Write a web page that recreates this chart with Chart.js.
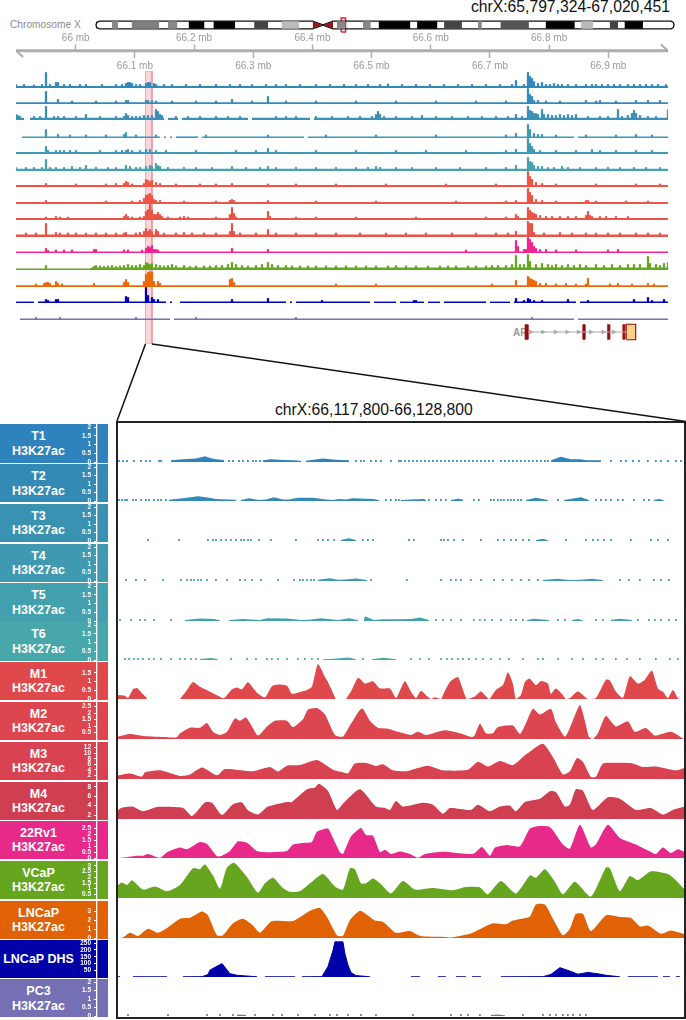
<!DOCTYPE html>
<html><head><meta charset="utf-8">
<script src="https://cdn.jsdelivr.net/npm/chart.js@4"></script>
<style>
html,body{margin:0;padding:0;background:#fff;width:686px;height:1020px;overflow:hidden;font-family:"Liberation Sans",sans-serif}
#page{position:relative;width:686px;height:1020px;overflow:hidden}
canvas{position:absolute;display:block}
.t{position:absolute;white-space:nowrap}
.row{position:absolute;left:0;width:108px}
.row div{position:absolute;left:0;width:77px;text-align:center;color:#fff;font-weight:bold;font-size:12.5px;line-height:14.4px;top:50%;transform:translateY(-50%)}
</style></head><body><div id="page"></div>
<script>
/* ---------- titles ---------- */
const overviewTitle = "chrX:65,797,324-67,020,451";
const zoomTitle = "chrX:66,117,800-66,128,800";
const chromosomeLabel = "Chromosome X";
const geneLabel = "AR";

/* ---------- ideogram, chromosome X, Mb ---------- */
const bandStart = [4.3,9.6,19.4,25.0,31.7,42.7,50.1,65.0,72.1,76.3,86.7,94.0,103.1,109.2,121.4,131.0,138.7,142.7];
const bandEnd   = [6.0,17.1,22.0,29.3,37.6,46.5,54.9,67.4,74.2,84.9,92.2,98.8,104.2,116.9,129.3,134.2,141.0,147.7];
const bandShade = ["#888","#808080","#888","#000","#000","#444","#bbb","#888","#888","#000","#000","#444","#888","#555","#000","#bbb","#444","#000"];
const centromere = [58.5,61.3,64.0];
const chromosomeEnd = 156.1;
const regionBox = [66.2,67.4];

/* ---------- overview axis, Mb ---------- */
const upperTicks = [66,66.2,66.4,66.6,66.8];
const lowerTicks = [66.1,66.3,66.5,66.7,66.9];
const overviewRange = [65.899,67.0009];
const overviewBinSize = 0.00338;
const highlightRange = [66.1178,66.1288];

/* ---------- gene model, Mb ---------- */
const exonStart = [66.7631,66.8618,66.9041,66.9304];
const exonEnd   = [66.7682,66.8657,66.9080,66.9338];
const utr = [66.9367,66.9519];
const intronArrows = [66.7728,66.7935,66.815,66.8348,66.8544,66.8753,66.8966,66.9147];

/* ---------- overview tracks: [bin, signal] ---------- */
const ovT1=[[0,3],[4,3],[9,2.5],[13,3],[15,15],[17,3],[20,5],[21,5],[24,3],[27,3],[32,3],[35,3],[43,3],[50,3],[53,3],[55,4],[56,5],[57,5],[58,4],[60,3],[62,3],[65,4],[66,5],[67,5],[69,4],[70,3],[74,3],[78,3],[85,3],[92,3],[100,3],[107,3],[112,3],[118,3],[125,3],[130,3],[135,3],[142,3],[150,3],[157,3],[164,3],[170,3],[176,3],[182,3],[186,3.5],[193,3],[200,3],[207,3],[214,3],[221,3],[228,3],[235,3],[242,3],[248,3],[250,7],[254,3],[256,15],[257,11],[258,9],[259,6],[261,4],[263,5],[265,3],[267,3],[269,4],[271,3],[273,3],[276,3],[280,3],[285,3],[288,3],[290,3],[293,3],[296,3],[299,3],[302,3],[306,3],[309,3],[312,3],[315,3],[318,3],[321,3],[325,3]];
const ovT2=[[15,12],[21,4],[28,2.5],[40,2.5],[50,2.5],[55,3],[56,3],[65,3],[66,3],[68,3],[70,2.5],[78,2.5],[90,2.5],[100,2.5],[108,4],[118,2.5],[126,7],[135,2.5],[150,2.5],[170,2.5],[190,2.5],[210,2.5],[230,2.5],[245,2.5],[256,15],[257,9],[258,7],[259,3],[261,3],[265,2.5],[272,2.5],[285,3],[290,2.5],[292,3],[300,2.5],[310,3],[316,3],[322,3]];
const ovT3=[[0,5],[1,4],[2,3],[9,3],[12,3],[15,13],[19,3],[21,3],[24,3],[30,3],[35,5],[42,3],[50,3],[54,3],[55,6],[56,4],[58,3],[60,3],[62,3],[64,4],[66,4],[68,4],[70,10],[71,8],[72,5],[73,4],[80,3],[86,3],[92,3],[100,3],[106,3],[112,3],[130,3],[135,3],[140,3],[150,3],[158,3],[166,3],[172,3],[178,3],[180,5],[181,8],[182,5],[184,3],[190,3],[198,3],[203,4],[210,3],[218,3],[226,3],[233,3],[240,3],[246,3],[250,5],[253,3],[256,13],[257,9],[258,8],[259,6],[260,6],[261,5],[263,10],[264,5],[266,5],[268,4],[270,4],[272,5],[274,4],[276,5],[278,4],[280,5],[286,3],[292,3],[296,3],[301,10],[303,3],[306,4],[308,6],[309,9],[310,6],[312,4],[316,3],[320,3],[326,10]];
const ovT4=[[15,8],[21,3],[27,2.5],[35,2.5],[45,2.5],[54,3],[55,5],[60,2.5],[70,2.5],[95,2.5],[126,2.5],[155,2.5],[180,2.5],[210,2.5],[245,2.5],[250,4],[256,13],[257,8],[259,4],[261,3],[263,3],[270,2.5],[285,2.5],[300,2.5],[310,3],[318,2.5]];
const ovT5=[[15,7],[16,3],[20,3],[22,3],[24,3],[27,3],[30,3],[42,3],[50,3],[53,3],[55,3],[56,4],[58,3],[62,3],[65,4],[67,4],[70,3],[75,3],[90,3],[110,3],[120,3],[126,5],[130,3],[150,3],[170,3],[190,3],[205,3],[225,3],[245,3],[250,4],[256,15],[257,10],[258,7],[259,4],[262,3],[270,3],[280,3],[288,4],[292,3],[300,3],[310,3],[318,3]];
const ovT6=[[0,3],[5,3],[9,3],[13,3],[15,11],[17,3],[20,3],[24,3],[28,4],[32,3],[35,5],[40,3],[46,3],[50,3],[55,5],[57,4],[60,3],[62,3],[65,4],[67,5],[68,4],[70,7],[71,5],[72,4],[76,3],[84,3],[90,3],[98,3],[108,4],[115,3],[122,3],[126,4],[130,3],[140,3],[150,3],[160,3],[170,3],[176,3],[180,4],[182,3],[190,3],[198,3],[210,3],[222,3],[235,3],[245,3],[250,5],[256,13],[257,9],[258,8],[259,5],[261,4],[263,4],[266,3],[269,3],[273,4],[276,3],[282,3],[290,3],[296,3],[302,3],[309,3],[315,3],[322,3]];
const ovM1=[[15,3],[30,2.5],[45,2.5],[50,3],[54,3],[55,5],[56,4],[58,2.5],[64,3],[65,7],[66,6],[67,5],[68,6],[70,4],[72,3],[80,2.5],[92,2.5],[100,2.5],[108,3],[126,2.5],[140,2.5],[160,2.5],[185,2.5],[215,2.5],[240,2.5],[256,15],[257,10],[258,7],[260,4],[263,3],[270,2.5],[290,2.5],[310,2.5],[322,2.5]];
const ovM2=[[15,3],[45,2.5],[58,2.5],[62,3],[64,5],[65,8],[66,9],[67,10],[68,8],[69,4],[70,3],[72,3],[84,2.5],[100,2.5],[107,3],[108,4],[109,3],[126,3],[150,2.5],[180,2.5],[220,2.5],[245,2.5],[250,3],[256,15],[257,11],[258,8],[260,4],[263,3],[270,2.5],[285,3],[286,3],[290,2.5],[305,2.5],[316,2.5]];
const ovM3=[[15,2.5],[20,3],[22,2.5],[26,2.5],[54,3],[55,5],[56,3],[58,2.5],[62,2.5],[64,3],[65,8],[66,10],[67,15],[68,9],[69,5],[70,5],[71,7],[72,5],[73,3],[76,2.5],[82,2.5],[84,3],[86,2.5],[100,2.5],[107,5],[108,12],[109,6],[110,2.5],[126,8],[127,3],[140,2.5],[150,2.5],[170,2.5],[200,2.5],[235,2.5],[245,2.5],[250,5],[251,3],[256,12],[257,9],[258,7],[259,6],[260,5],[262,4],[265,3],[268,3],[272,3],[276,3],[280,3],[285,4],[286,8],[287,4],[288,3],[292,3],[295,3],[300,3],[306,3]];
const ovM4=[[5,3.5],[10,3.5],[15,13],[20,4],[22,3.5],[26,3.5],[30,3.5],[35,3.5],[40,3.5],[45,3.5],[50,3.5],[54,3.5],[55,4],[60,3.5],[62,4],[64,5],[65,8],[66,5],[67,7],[68,5],[70,7],[71,5],[74,3.5],[80,3.5],[84,4],[88,3.5],[94,3.5],[100,3.5],[107,5],[108,13],[109,5],[112,3.5],[120,3.5],[126,7],[130,3.5],[140,3.5],[150,3.5],[160,3.5],[172,3.5],[185,3.5],[195,3.5],[205,3.5],[218,3.5],[230,3.5],[240,3.5],[246,3.5],[250,5],[256,15],[257,13],[258,13],[259,4],[264,3.5],[272,4],[278,3.5],[285,3.5],[290,3.5],[296,3.5],[302,3.5],[310,3.5],[316,3.5],[322,3.5]];
const ovR22=[[15,4],[16,2],[20,2.5],[24,2.5],[28,2.5],[39,3],[40,3],[54,2.5],[56,2.5],[63,2.5],[65,4],[66,6],[67,5],[68,7],[69,3],[70,3],[71,2.5],[108,4],[126,3],[225,2.5],[250,12],[251,6],[254,3],[255,3],[256,15],[257,13],[258,10],[259,6],[260,4],[262,3],[265,3],[270,2.5],[280,2.5],[296,2.5],[301,3]];
const ovVC=[[15,4],[39,3],[40,4],[42,3.5],[44,3],[46,3.5],[48,4],[50,3],[52,3.5],[54,4],[56,5],[58,4],[60,4],[62,5],[64,4],[65,7],[66,6],[67,5],[68,6],[70,5],[72,4],[74,3.5],[76,4],[78,5],[80,3.5],[84,4],[87,3],[90,3.5],[94,3.5],[97,3.5],[100,4],[103,4],[106,5],[108,7],[110,5],[113,4],[116,3.5],[120,4],[123,5],[126,7],[128,5],[131,4],[135,4],[138,3.5],[142,3.5],[146,3.5],[150,3.5],[155,3.5],[160,3.5],[165,3.5],[170,3.5],[175,3.5],[180,3.5],[186,3.5],[190,4],[195,3.5],[200,3.5],[206,3.5],[212,3.5],[216,3.5],[220,3.5],[226,3.5],[230,3.5],[235,3.5],[238,4],[241,4],[245,4],[248,5],[250,14],[252,5],[254,5],[256,15],[257,8],[260,5],[263,6],[266,5],[268,4],[270,5],[273,4],[276,5],[279,4],[282,5],[285,4],[290,5],[294,4],[298,5],[302,4],[306,5],[309,5],[312,5],[316,13],[317,6],[320,5],[322,4],[324,6],[326,7]];
const ovLN=[[10,2.5],[14,3],[15,4],[16,4],[17,3],[20,5],[21,3],[23,2.5],[39,3],[54,4],[55,7],[56,4],[64,5],[65,12],[66,14],[67,15],[68,14],[69,5],[71,5],[72,3],[107,7],[108,8],[109,4],[160,2.5],[180,2.5],[238,2.5],[250,6],[256,10],[257,8],[258,7],[259,6],[260,5],[262,3],[265,3],[270,2.5],[275,3],[280,2.5],[285,2.5],[286,8],[297,2.5],[301,3],[308,2.5],[316,3],[319,2.5]];
const ovDH=[[15,3],[16,2],[20,3],[21,3],[55,6],[56,5],[65,15],[66,7],[68,5],[69,3],[71,3],[108,3],[126,4],[153,2],[199,2],[200,2],[250,4],[254,2],[256,4],[257,3],[259,2],[263,2],[276,3],[286,2],[309,3],[316,5],[318,2],[324,3]];
const ovPC=[[10,2],[22,2],[60,2],[90,2],[140,2],[258,2]];
const ovGapsT3=[5,6,75,82,117,148];
const ovGapsT4=[1,2,73,76,79,92,145,280];
const ovGapsDH=[10,76,79,81,136,139,178,191,205,213,236,248,281];
const ovGapsPC=[1,78,280];

/* ---------- zoom window ---------- */
const windowStart = 66117800;
const windowEnd   = 66128800;
const bpPerBin = 19.43;

/* ---------- zoom axes ---------- */
const ticksChip = [0,0.5,1,1.5,2];
const ticksM1 = [0,0.5,1,1.5];
const ticksM2 = [0.5,1,1.5,2,2.5];
const ticksM3 = [2,4,6,8,10,12];
const ticksM4 = [2,4,6,8];
const ticksR22 = [0,0.5,1,1.5,2,2.5];
const ticksVC = [0.5,1,1.5,2,2.5,3];
const ticksLN = [0,1,2,3];
const ticksDH = [50,100,150,200,250];

/* ---------- zoom profiles: [bin, signal] ---------- */
const profM1=[[0,.24],[7,.19],[10,.06],[15,.56],[19,.63],[24,.33],[28,.11],[29,0],[30,null],[61,null],[62,0],[69,.52],[75,.98],[82,.7],[90,.48],[100,.19],[106,.05],[114,.56],[119,.67],[124,.56],[130,.96],[139,.37],[147,.11],[154,.74],[160,.83],[169,.76],[174,.3],[184,.43],[189,.52],[194,.7],[200,2.0],[207,1.26],[210,.98],[217,.11],[218,0],[219,null],[227,null],[228,0],[233,.43],[240,1.22],[243,1.11],[247,.89],[255,1.02],[262,.61],[272,.61],[278,.06],[280,.24],[287,1.02],[293,.43],[298,.06],[303,.48],[308,.24],[313,0],[317,.11],[323,0],[325,.24],[332,.98],[340,1.26],[344,.7],[349,0],[357,.15],[363,.43],[371,0],[373,.11],[378,.52],[385,.8],[390,1.54],[395,.89],[398,0],[403,.24],[407,.98],[412,1.17],[418,.8],[423,1.04],[430,.89],[433,.3],[438,.61],[445,.24],[448,0],[452,.06],[460,.43],[470,0],[478,.06],[488,1.11],[492,1.07],[498,.43],[505,.06],[512,1.3],[520,.89],[527,1.11],[534,1.63],[540,.61],[545,.43],[550,.06],[555,.52],[560,.06],[562,0]];
const profM2=[[0,.19],[12,.39],[25,.24],[49,.15],[59,.15],[62,.44],[72,.87],[82,.87],[89,1.24],[95,.56],[102,.32],[109,.56],[117,1.6],[122,1.41],[128,1.65],[134,.97],[140,.27],[149,.97],[157,1.41],[169,1.41],[175,.92],[185,1.53],[190,2.26],[199,2.38],[207,1.89],[217,.32],[225,.19],[233,1.17],[242,2.26],[245,2.33],[252,1.41],[260,.87],[270,.8],[280,.56],[293,.32],[300,.56],[308,.32],[327,.68],[342,.44],[354,.15],[357,.32],[362,1.17],[368,.44],[375,.44],[380,.92],[395,1.04],[402,.39],[407,1.04],[415,2.33],[422,1.89],[433,2.33],[438,1.29],[447,.19],[453,1.04],[462,2.62],[467,1.41],[471,.19],[475,0],[480,.44],[488,1.77],[498,.97],[510,1.36],[517,.56],[528,.85],[537,.27],[553,.56],[566,0]];
const profM3=[[0,2],[12,2.7],[24,1.55],[27,3.1],[42,3.8],[62,1.8],[72,2.3],[84,4.8],[99,2.0],[107,4.3],[135,3.5],[152,5],[160,3.4],[169,5.5],[182,5.7],[199,7.5],[215,4],[225,3.1],[230,2.7],[237,6.3],[247,6.5],[258,5.4],[265,6],[275,3.8],[288,3.5],[310,5.5],[325,3.8],[350,4],[360,6.9],[370,5.2],[382,7.2],[395,5.7],[408,9.5],[425,13.4],[435,8.6],[445,2.3],[452,3.5],[459,8.2],[465,6.9],[473,1.4],[478,1.5],[485,6.3],[498,6.5],[515,6.3],[525,5],[538,5.2],[558,3.8],[567,4.8]];
const profM4=[[0,3],[3,3.5],[14,3.8],[25,2.8],[39,3.7],[65,3.5],[74,1.8],[87,4.7],[94,4.6],[104,2],[115,4.3],[124,4.7],[130,3],[140,2.1],[150,3.8],[169,4.8],[174,4.8],[189,7.5],[197,7.9],[201,8.7],[210,7.2],[219,3.1],[225,4.4],[242,7.5],[258,3.8],[267,3.5],[272,3.1],[278,5],[285,3.8],[305,4.6],[315,4.2],[325,2.3],[332,3.5],[353,3.1],[360,4.2],[372,2.8],[382,3.8],[392,4],[398,2.8],[407,4.8],[422,5.5],[432,7.1],[438,6.9],[447,3.8],[452,4.2],[458,7.5],[465,7.2],[475,3.1],[490,5.8],[502,5.5],[518,3.1],[533,3.5],[545,2.1],[555,3.1],[567,3.8]];
const profR22=[[0,0],[10,.1],[19,.2],[25,.2],[30,.35],[42,.03],[49,.5],[62,.9],[69,.75],[82,1.37],[89,1.2],[99,.16],[104,.2],[112,.6],[120,1.42],[129,1.3],[139,.6],[149,.5],[169,.6],[175,1.15],[187,1.3],[194,1.37],[199,2.23],[210,2.5],[215,1.7],[222,.5],[225,.35],[233,1.83],[243,2.55],[248,1.96],[255,1.9],[262,.5],[267,.7],[273,.35],[282,.56],[292,.35],[300,.03],[307,.35],[325,.54],[355,.35],[364,.94],[372,.2],[377,.9],[388,1.1],[402,1],[412,2.5],[420,2.7],[432,2.63],[445,1.15],[452,.8],[462,2.82],[473,.9],[478,1.15],[490,2.82],[502,1.7],[518,1.15],[532,.56],[538,.35],[545,.9],[553,.43],[560,.75],[567,.5]];
const profVC=[[0,1.33],[4,1.55],[9,1.33],[14,1.75],[25,.92],[37,1.2],[49,.78],[62,1.33],[75,2.8],[82,2.72],[87,3.14],[95,2.17],[102,1],[109,2.86],[116,3.28],[129,2.03],[140,.64],[147,1.47],[155,1.97],[165,1.06],[172,.72],[182,.78],[192,1.47],[205,2.3],[217,1.2],[225,.92],[232,2.8],[237,2.72],[243,1.47],[248,1.47],[255,1.89],[262,1.47],[273,.58],[285,1.67],[297,.92],[315,1.06],[335,.86],[348,1.14],[362,1.11],[370,.5],[383,1.67],[398,.58],[412,2.17],[418,1.97],[427,2.72],[437,1.61],[445,.5],[457,1.61],[473,.3],[488,2.86],[492,2.8],[502,.78],[512,2.11],[520,1.75],[533,2.53],[550,2.3],[558,1.75],[567,.92]];
const profLN=[[0,0],[5,.07],[12,.6],[20,.25],[30,1.07],[40,.6],[49,1.14],[62,2.2],[72,2.3],[84,3],[90,2.57],[99,.32],[105,.32],[115,1.68],[125,2.2],[135,1.43],[142,.6],[154,1.93],[175,1.93],[192,3.1],[202,3.4],[210,2.2],[219,.32],[225,.25],[232,2.04],[242,3.1],[250,2.57],[257,2],[265,1.86],[278,.6],[292,.8],[302,.25],[325,.14],[332,.07],[352,.5],[363,1.07],[375,1.68],[388,1.57],[395,2],[412,2.46],[418,3.8],[427,3.8],[435,2.2],[445,.32],[452,1.07],[458,2.75],[465,2.75],[473,.8],[488,2.57],[502,2.4],[513,2.3],[522,1.32],[530,1.43],[543,.5],[553,.86],[567,.43]];
const profDH=[[0,3],[2,3],[3,null],[14,null],[15,3],[49,3],[50,null],[64,null],[65,3],[84,4],[90,20],[92,52],[104,100],[112,26],[119,14],[139,3],[140,null],[146,null],[147,3],[177,3],[178,null],[183,null],[184,3],[204,4],[210,78],[215,195],[217,259],[225,259],[227,172],[230,90],[233,35],[238,12],[252,3],[253,null],[292,null],[293,3],[302,3],[303,null],[319,null],[320,3],[328,3],[329,null],[337,null],[338,3],[348,3],[349,null],[353,null],[354,3],[363,3],[364,null],[382,null],[383,3],[425,4],[433,20],[442,70],[452,45],[460,22],[470,35],[480,25],[488,14],[502,3],[503,null],[509,null],[510,3],[540,3],[541,null],[544,null],[545,3],[552,3],[553,null],[557,null],[558,3],[562,3]];
const humpT1=[[53,.1],[65,.17],[78,.2],[87,.33],[93,.22],[98,.17],[106,.12],[107,null],[144,null],[145,.1],[153,.17],[161,.14],[175,.1],[183,.08],[184,null],[187,null],[188,.08],[205,.2],[218,.14],[231,.1],[232,null],[432,null],[433,.1],[443,.3],[453,.17],[463,.17],[468,.1],[483,.1]];
const humpT2=[[51,.08],[65,.17],[80,.28],[88,.22],[98,.13],[118,.08],[119,null],[122,null],[123,.07],[131,.17],[141,.06],[148,.1],[156,.22],[165,.1],[171,.1],[180,.2],[195,.2],[208,.1],[215,.07],[221,.13],[228,.1],[235,.17],[255,.13],[261,.06],[262,null],[282,null],[283,.07],[293,.1],[306,.12],[308,.05],[309,null],[332,null],[333,.07],[340,.14],[345,.1],[346,null],[407,null],[408,.07],[418,.2],[430,.07],[431,null],[445,null],[446,.07],[463,.22],[471,.07],[472,null],[535,null],[536,.07],[541,.12],[546,.05]];
const humpT3=[[223,.06],[231,.17],[238,.06],[239,null],[417,null],[418,.07],[425,.14],[430,.05]];
const humpT4=[[200,.08],[212,.17],[220,.08],[227,.1],[238,.15],[249,.07],[250,null],[424,null],[425,.07],[440,.14],[451,.07],[463,.08],[474,.14],[485,.06]];
const humpT5=[[67,.06],[82,.15],[96,.12],[102,.05],[103,null],[110,null],[111,.06],[125,.12],[142,.06],[149,.17],[169,.15],[183,.06],[191,.08],[203,.17],[220,.06],[225,.1],[231,.17],[240,.06],[241,null],[246,.1],[247,.28],[256,.07],[265,.1],[278,.1],[293,.12],[302,.2],[311,.07],[312,null],[408,null],[409,.06],[416,.14],[431,.07],[432,null],[453,null],[454,.06],[460,.12],[465,.05],[466,null],[492,null],[493,.08],[502,.14],[514,.06]];
const humpT6=[[82,.06],[93,.12],[100,.05],[101,null],[204,null],[205,.05],[216,.08],[231,.15],[238,.05],[239,null],[253,null],[254,.05],[265,.14],[278,.05]];
const humpPC=[[119,.06],[121,.1],[125,.08],[128,.06],[129,null],[372,null],[373,.06],[380,.1],[387,.05]];

/* ---------- zoom sparse reads: bins holding a small signal ---------- */
const readsT1=[1,5,9,16,23,28,32,41,43,111,115,121,125,130,135,138,142,238,243,246,253,258,263,273,281,283,287,291,295,299,303,307,311,315,319,323,327,331,335,339,343,347,351,355,359,363,367,371,375,383,387,391,395,399,403,407,411,415,419,423,427,430,493,503,508,515,521,530,538,543,550,558,563];
const readsT2=[1,4,7,9,15,18,23,28,31,36,40,43,48,268,273,278,281,311,318,323,328,356,361,373,376,380,383,386,390,393,396,400,403,440,478,483,488,493,500,505,516,526,531];
const readsT3=[30,61,90,95,98,103,108,113,118,123,126,130,133,141,153,178,200,205,210,216,245,250,255,291,296,323,326,330,336,345,363,380,386,393,398,405,411,448,468,475,480,486,493,513,533,540,550];
const readsT4=[8,18,27,45,63,69,73,76,80,83,89,98,109,122,127,134,143,160,176,182,185,189,193,196,253,289,323,333,338,343,353,363,376,385,394,403,411,420,502,511,522,536,543,551];
const readsT5=[2,13,22,27,36,53,318,325,333,343,356,362,367,374,383,393,398,405,440,447,478,485,520,531,537,543,551,558];
const readsT6=[7,11,16,20,25,31,36,43,53,62,67,73,78,113,129,138,149,154,160,169,180,187,194,200,245,293,302,311,323,329,334,340,345,351,358,365,373,382,391,405,420,425,440,454,465,478,485,498,509,522,538,552,560];
const readsPC=[10,50,89,102,115,137,155,164,180,197,212,219,230,243,258,295,333,343,350,362,405,425,432,438,445,450,455,462,468];
const readSignal = 0.1;

/* ---------- labels and colours ---------- */
const rowNames=["T1","T2","T3","T4","T5","T6","M1","M2","M3","M4","22Rv1","VCaP","LNCaP","LNCaP DHS","PC3"];
const rowAssay=["H3K27ac","H3K27ac","H3K27ac","H3K27ac","H3K27ac","H3K27ac","H3K27ac","H3K27ac","H3K27ac","H3K27ac","H3K27ac","H3K27ac","H3K27ac","","H3K27ac"];
const rowColors=["#2e83bc","#338bb5","#3a92b2","#3f99b0","#43a0ae","#48a7ab","#e0494c","#dd464f","#d94351","#d03e52","#e7298a","#66a61e","#e06205","#0000a8","#7570b3"];
const ovColors=["#3388bb","#338bb8","#3a90b5","#3f98b5","#3f98b5","#48a0b0","#ee5545","#ec5548","#e85548","#e55548","#f0258f","#66a61e","#e8690b","#0000b0","#7570b3"];

/* ---------- layout (not data) ---------- */
const ovBase=[86.7,103.3,119.3,136.7,153,169.7,186,202.7,219.3,235.7,252.3,269,285.7,302.3,318.7];
const ovFloor=[2,1.8,2.2,1.6,2,2.2,2,2,2,2.6,1.6,2.6,1.8,1.4,1.4];
const rowTop=[424.3,464,504,543.7,583.3,622,661.7,701.7,741.7,781.7,821,860.7,901,940,979.3];
const rowBottom=[462.7,502.3,542,582,621.7,660.7,700,740,780,820,859,899,938.7,977.7,1017.3];

const FONT='"Liberation Sans"';
Chart.defaults.font.family=FONT;
Chart.defaults.animation=false;
Chart.defaults.responsive=false;
Chart.defaults.devicePixelRatio=1;
Chart.defaults.events=[];
Chart.defaults.plugins.legend.display=false;
Chart.defaults.plugins.tooltip.enabled=false;
Chart.defaults.elements.point.radius=0;

const page=document.getElementById('page');
function addCanvas(l,t,w,h){const c=document.createElement('canvas');c.width=w;c.height=h;c.style.cssText=`left:${l}px;top:${t}px;width:${w}px;height:${h}px`;page.appendChild(c);return c;}
function addText(s,css){const d=document.createElement('div');d.className='t';d.textContent=s;d.style.cssText=css;page.appendChild(d);return d;}
const hidden=(min,max,extra)=>Object.assign({type:'linear',display:false,min,max,offset:false},extra||{});
const lineSet=(data,color,extra)=>Object.assign({type:'line',data,borderColor:color,backgroundColor:color,borderWidth:0,pointRadius:0,tension:0,fill:false,spanGaps:false},extra||{});
const rectPts=(a,b,lo,hi)=>[{x:a,y:lo},{x:a,y:hi},{x:b,y:hi},{x:b,y:lo},{x:a,y:lo}];
const rectFill=(a,b,lo,hi,color)=>lineSet([{x:a,y:hi},{x:b,y:hi}],color,{showLine:true,fill:{value:lo}});

/* text */
addText(overviewTitle,'left:471px;top:-2px;font-size:15.7px;color:#111;line-height:18px');
addText(zoomTitle,'left:275px;top:401px;font-size:15.7px;color:#111;line-height:18px');
addText(chromosomeLabel,'left:10px;top:18px;font-size:10.2px;color:#8a8a8a;line-height:14px');
addText(geneLabel,'left:513px;top:326px;font-size:10px;font-weight:bold;color:#999;line-height:13px');

/* highlight band */
new Chart(addCanvas(16,71,652,273),{type:'scatter',data:{datasets:[
 rectFill(highlightRange[0],highlightRange[1],0,1,'rgba(245,150,160,.38)'),
 lineSet(rectPts(highlightRange[0],highlightRange[1],0,1),'rgba(240,130,140,.7)',{showLine:true,borderWidth:1,clip:false})]},
 options:{scales:{x:hidden(overviewRange[0],overviewRange[1]),y:hidden(0,1)}}});

/* ideogram */
(function(){
 const ds=[];
 bandStart.forEach((s,i)=>ds.push(rectFill(s,bandEnd[i],-1,1,bandShade[i])));
 const red='#8b1d1d';
 [-1,1].forEach(sg=>{
  ds.push(lineSet([{x:centromere[0],y:sg},{x:centromere[1],y:0}],red,{showLine:true,fill:'origin'}));
  ds.push(lineSet([{x:centromere[1],y:0},{x:centromere[2],y:sg}],red,{showLine:true,fill:'origin'}));
 });
 const e=chromosomeEnd,c=centromere;
 ds.push(lineSet([{x:1,y:1},{x:c[0],y:1},{x:c[1],y:.05},{x:c[2],y:1},{x:e-.8,y:1},{x:e-.2,y:.7},{x:e,y:0},{x:e-.2,y:-.7},{x:e-.8,y:-1},{x:c[2],y:-1},{x:c[1],y:-.05},{x:c[0],y:-1},{x:1,y:-1},{x:.2,y:-.7},{x:0,y:0},{x:.2,y:.7},{x:1,y:1}],'#111',{showLine:true,borderWidth:1.3}));
 ds.push(lineSet(rectPts(regionBox[0],regionBox[1],-1.84,1.84),'#e3202a',{showLine:true,borderWidth:1.4}));
 new Chart(addCanvas(90,16,590,18),{type:'scatter',data:{datasets:ds},options:{scales:{x:hidden(-1.62,157.7),y:hidden(-2.37,2.37)}}});
})();

/* overview axis */
new Chart(addCanvas(16,30,652,45),{type:'scatter',data:{datasets:[
 lineSet([{x:overviewRange[0],y:0},{x:overviewRange[1],y:0}],'#aeaeae',{showLine:true,borderWidth:3,clip:false,xAxisID:'xb'}),
 lineSet([{x:overviewRange[0],y:0},{x:overviewRange[0]+.012,y:-5}],'#aeaeae',{showLine:true,borderWidth:2,clip:false,xAxisID:'xb'}),
 lineSet([{x:overviewRange[1],y:0},{x:overviewRange[1]-.012,y:5}],'#aeaeae',{showLine:true,borderWidth:2,clip:false,xAxisID:'xb'})
]},options:{scales:{
 xa:{type:'linear',position:'top',min:overviewRange[0],max:overviewRange[1],border:{display:false},
  afterBuildTicks:s=>{s.ticks=upperTicks.map(v=>({value:v}));},afterFit:s=>{s.height=19.5;},
  grid:{drawOnChartArea:false,tickLength:5,tickWidth:1.5,tickColor:'#aeaeae'},
  ticks:{autoSkip:false,maxRotation:0,padding:0,color:'#9a9a9a',font:{size:10},callback:v=>v+' mb'}},
 xb:{type:'linear',position:'bottom',min:overviewRange[0],max:overviewRange[1],border:{display:false},
  afterBuildTicks:s=>{s.ticks=lowerTicks.map(v=>({value:v}));},afterFit:s=>{s.height=23;},
  grid:{drawOnChartArea:false,tickLength:6,tickWidth:1.5,tickColor:'#aeaeae'},
  ticks:{autoSkip:false,maxRotation:0,padding:2,color:'#9a9a9a',font:{size:10},callback:v=>v+' mb'}},
 y:hidden(-1,1)}}});

/* overview tracks */
const ovData=[ovT1,ovT2,ovT3,ovT4,ovT5,ovT6,ovM1,ovM2,ovM3,ovM4,ovR22,ovVC,ovLN,ovDH,ovPC];
const ovGaps={2:ovGapsT3,3:ovGapsT4,13:ovGapsDH,14:ovGapsPC};
const ovX=b=>overviewRange[0]+b*overviewBinSize;
ovData.forEach((peaks,i)=>{
 const gaps=ovGaps[i]||[];
 const floor=[];
 for(let b=0;b<=326;b++){
  const h=(i===11&&b<38)?1.4:ovFloor[i];
  floor.push({x:ovX(b),y:gaps.includes(b)?null:h});
 }
 new Chart(addCanvas(16,Math.round(ovBase[i]+1-18),652,18),{type:'bar',data:{datasets:[
  {type:'bar',data:peaks.map(p=>({x:ovX(p[0]),y:p[1]+.5})),backgroundColor:ovColors[i],barThickness:1.6},
  lineSet(floor,ovColors[i],{fill:'origin'})
 ]},options:{scales:{x:hidden(overviewRange[0],overviewRange[1]),y:hidden(0,18)}}});
});

/* gene model */
(function(){
 const ds=[lineSet([{x:exonEnd[0],y:0},{x:utr[0],y:0}],'#aaa',{showLine:true,borderWidth:1.2}),
  {type:'scatter',data:intronArrows.map(x=>({x,y:0})),pointStyle:'triangle',rotation:90,pointRadius:3,backgroundColor:'#aaa',borderWidth:0}];
 exonStart.forEach((s,i)=>{
  ds.push(rectFill(s,exonEnd[i],-1,1,'#7d1418'));
  ds.push(lineSet(rectPts(s,exonEnd[i],-1,1),'#c4161c',{showLine:true,borderWidth:.8}));
 });
 ds.push(rectFill(utr[0],utr[1],-1,1,'#fdd08a'));
 ds.push(lineSet(rectPts(utr[0],utr[1],-1,1),'#8b1216',{showLine:true,borderWidth:1.8}));
 new Chart(addCanvas(16,318,652,28),{type:'scatter',data:{datasets:ds},options:{scales:{x:hidden(overviewRange[0],overviewRange[1]),y:hidden(-1.36,1.36)}}});
})();

/* zoom rows */
const rowAxis=[
 {t:ticksChip,min:0,max:2.13},{t:ticksChip,min:0,max:2.13},{t:ticksChip,min:0,max:2.13},{t:ticksChip,min:0,max:2.13},{t:ticksChip,min:0,max:2.13},{t:ticksChip,min:0,max:2.13},
 {t:ticksM1,min:0,max:2.07},{t:ticksM2,min:0,max:2.78},{t:ticksM3,min:.65,max:13.7},{t:ticksM4,min:1.13,max:8.87},
 {t:ticksR22,min:0,max:3.07},{t:ticksVC,min:.17,max:3.36},{t:ticksLN,min:0,max:4.1},{t:ticksDH,min:.7,max:266},{t:ticksChip,min:0,max:2.13}];
const rowProfiles=[humpT1,humpT2,humpT3,humpT4,humpT5,humpT6,profM1,profM2,profM3,profM4,profR22,profVC,profLN,profDH,humpPC];
const rowReads=[readsT1,readsT2,readsT3,readsT4,readsT5,readsT6,null,null,null,null,null,null,null,null,readsPC];
const bpX=b=>windowStart+b*bpPerBin;

rowNames.forEach((name,i)=>{
 const top=rowTop[i],bot=rowBottom[i];
 const r=document.createElement('div');r.className='row';
 r.style.cssText=`top:${top}px;height:${bot-top}px;background:${rowColors[i]}`;
 const lab=document.createElement('div');
 const a=document.createElement('span');a.textContent=name;lab.appendChild(a);
 if(rowAssay[i]){lab.appendChild(document.createElement('br'));const b=document.createElement('span');b.textContent=rowAssay[i];lab.appendChild(b);}
 r.appendChild(lab);page.appendChild(r);
});
rowNames.forEach((name,i)=>{
 const top=rowTop[i],bot=rowBottom[i],ax=rowAxis[i];
 const pad=6,ctop=Math.round(top)-pad,ch=Math.round(bot)-Math.round(top)+2*pad;
 const col=rowColors[i];
 const ds=[lineSet(rowProfiles[i].map(p=>({x:bpX(p[0]),y:p[1]})),col,{fill:'origin',borderWidth:i===13?1:0,tension:(i>=6&&i<=12)?.2:0})];
 if(rowReads[i]) ds.push({type:'bar',data:rowReads[i].map(b=>({x:bpX(b),y:readSignal})),backgroundColor:col,barThickness:1});
 new Chart(addCanvas(60,ctop,624,ch),{type:'bar',data:{datasets:ds},options:{
  layout:{padding:{top:pad,bottom:pad,left:0,right:0}},
  scales:{
   x:hidden(windowStart-21*bpPerBin,windowEnd),
   y:{type:'linear',min:ax.min,max:ax.max,position:'left',
    afterBuildTicks:s=>{s.ticks=ax.t.map(v=>({value:v}));},
    afterFit:s=>{s.width=37;},
    border:{display:true,color:'#fff',width:1.3},
    grid:{drawOnChartArea:false,tickLength:3,tickColor:'#fff',tickWidth:1},
    ticks:{autoSkip:false,padding:3,color:'#fff',font:{size:6.5,weight:'bold'},callback:v=>String(v)}}
  }}});
});

/* zoom frame and connector */
const frame=document.createElement('div');
frame.style.cssText='position:absolute;left:116px;top:421px;width:570px;height:598px;box-sizing:border-box;border:2px solid #222';
page.appendChild(frame);
page.insertAdjacentHTML('beforeend','<svg width="686" height="1020" style="position:absolute;left:0;top:0"><path d="M145.5 344L117 421M152 344L686 421.5" stroke="#111" stroke-width="1.5" fill="none"/></svg>');
</script></body></html>
